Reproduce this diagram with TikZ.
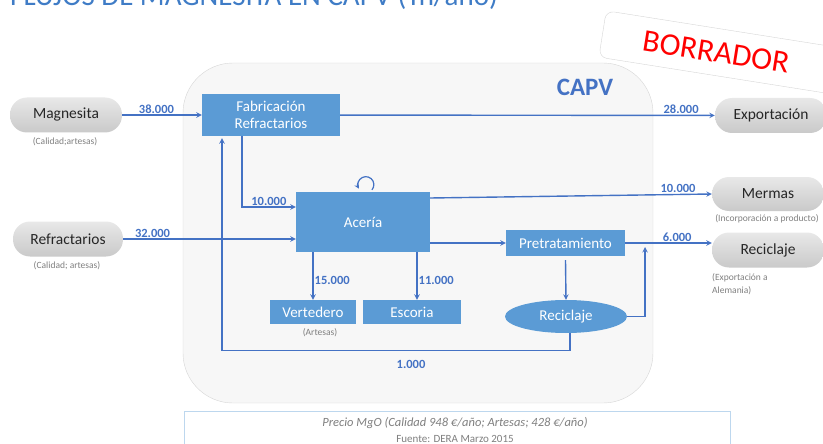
\documentclass[tikz,border=0pt]{standalone}
\usepackage{fontspec}
\setmainfont{Carlito}
\usetikzlibrary{arrows,shapes.geometric,positioning,calc}
\definecolor{boxblue}{HTML}{5B9BD5}
\definecolor{flowblue}{HTML}{4472C4}
\definecolor{titleblue}{HTML}{3F7CC6}
\definecolor{capvfill}{HTML}{F7F7F7}
\definecolor{capvline}{HTML}{D6D6D6}
\definecolor{notegray}{HTML}{7F7F7F}
\definecolor{noteline}{HTML}{BDD7EE}

\begin{document}
\begin{tikzpicture}[x=1pt, y=-1pt, >=stealth,
    proc/.style={rectangle, fill=boxblue, text=white, align=center,
      inner sep=0pt, font=\fontsize{15}{17}\selectfont},
    pill/.style={rectangle, rounded corners=17pt, top color=gray!18,
      bottom color=gray!42, text=black!85, inner sep=0pt,
      minimum width=110pt, minimum height=35pt,
      font=\fontsize{15.5}{17}\selectfont},
    capnote/.style={text=notegray, inner sep=0pt, font=\fontsize{9.5}{11}\selectfont},
    num/.style={text=flowblue, inner sep=1pt, font=\bfseries\fontsize{12.5}{14}\selectfont},
    flow/.style={->, draw=flowblue, line width=1.4pt}]

  \useasboundingbox (0,0) rectangle (823,444);

  % title and stamp
  \node[anchor=base west, inner sep=0pt, text=titleblue,
    font=\fontsize{29}{32}\selectfont] (titulo) at (10,6)
    {FLUJOS DE MAGNESITA EN CAPV (Tn/año)};
  \node[draw=capvline, fill=white, rounded corners=8pt, rotate=-9,
    minimum width=250pt, minimum height=47pt] (sello) at (726,53.5) {};
  \node[rotate=-9, text=red, font=\fontsize{31.5}{34}\selectfont] (borrador)
    at (716,52) {BORRADOR};

  % region
  \node[draw=capvline, fill=capvfill, rounded corners=50pt,
    minimum width=470pt, minimum height=340pt] (capv) at (418,233) {};
  \node[text=flowblue, font=\bfseries\fontsize{25}{28}\selectfont] (capvlbl)
    at (585,87) {CAPV};

  % processes
  \node[proc, minimum width=138pt, minimum height=42pt] (fabric) at (271,115)
    {Fabricación\\Refractarios};
  \node[proc, minimum width=134pt, minimum height=60pt] (aceria) at (363,222) {Acería};
  \node[proc, minimum width=119pt, minimum height=26pt] (pretrat) at (565.5,243)
    {Pretratamiento};
  \node[proc, minimum width=86pt, minimum height=24pt] (vertedero) at (313,312) {Vertedero};
  \node[proc, minimum width=98pt, minimum height=24pt] (escoria) at (412,312) {Escoria};
  \node[proc, ellipse, minimum width=122pt, minimum height=33pt] (recin) at (566,316.5)
    {Reciclaje};
  \node[capnote] (artesas) at (320,333) {(Artesas)};

  % inputs and outputs
  \node[pill, minimum width=112pt] (magnesita) at (66,115) {Magnesita};
  \node[capnote] (capmag) at (65,142) {(Calidad;artesas)};
  \node[pill] (refrac) at (68,239) {Refractarios};
  \node[capnote] (caprefrac) at (67,266) {(Calidad; artesas)};
  \node[pill, minimum width=112pt] (export) at (771,115.5) {Exportación};
  \node[pill, minimum width=112pt, minimum height=34pt] (mermas) at (768,194) {Mermas};
  \node[capnote] (capmermas) at (767,219) {(Incorporación a producto)};
  \node[pill, minimum width=112pt] (recsal) at (768,250) {Reciclaje};
  \node[capnote, anchor=north west, align=left] (caprecsal) at (712,273)
    {(Exportación a\\[2pt]Alemania)};

  % flows
  \draw[flow] (magnesita) -- (fabric) node[num, above, pos=0.43] {38.000};
  \draw[flow] (fabric) -- (export) node[num, above, pos=0.91] {28.000};
  \draw[flow] ([xshift=-29pt]fabric.south) |- ([yshift=15pt]aceria.west)
    node[num, above, pos=0.75] {10.000};
  \draw[flow] (refrac.east) -- (refrac.east -| aceria.west)
    node[num, above, pos=0.17] {32.000};
  \draw[flow] ([yshift=24pt]aceria.east) -- (mermas.west)
    node[num, above, pos=0.88] {10.000};
  \draw[flow] (aceria.east |- pretrat.west) -- (pretrat.west);
  \draw[flow] (pretrat.east) -- (pretrat.east -| recsal.west)
    node[num, above, pos=0.6] {6.000};
  \draw[flow] (vertedero.north |- aceria.south) -- (vertedero.north)
    node[num, right, pos=0.6] {15.000};
  \draw[flow] ([xshift=5pt]escoria.north |- aceria.south) -- ([xshift=5pt]escoria.north)
    node[num, right, pos=0.6] {11.000};
  \draw[flow] ([yshift=-4pt]pretrat.south) -- (recin.north);
  \coordinate (retorno) at (645,247);
  \draw[flow] (recin.east) -| (retorno);
  \draw[flow] ([xshift=4pt]recin.south) -- ++(0,17) -| ([xshift=-49pt, yshift=-2pt]fabric.south);
  \node[num] (n1000) at (411,364) {1.000};
  \draw[flow, line width=1.2pt] ([xshift=9pt, yshift=2pt]aceria.north)
    arc[start angle=40, end angle=-210, radius=8];

  % footnote
  \node[draw=noteline, fill=white, minimum width=546pt, minimum height=50pt] (nota)
    at (457,436) {};
  \node[text=notegray, font=\itshape\fontsize{12.5}{14}\selectfont] (precio)
    at (455,423) {Precio MgO (Calidad 948 €/año; Artesas; 428 €/año)};
  \node[text=notegray, font=\fontsize{11}{13}\selectfont] (fuente)
    at (455,439) {Fuente: DERA Marzo 2015};
\end{tikzpicture}
\end{document}
